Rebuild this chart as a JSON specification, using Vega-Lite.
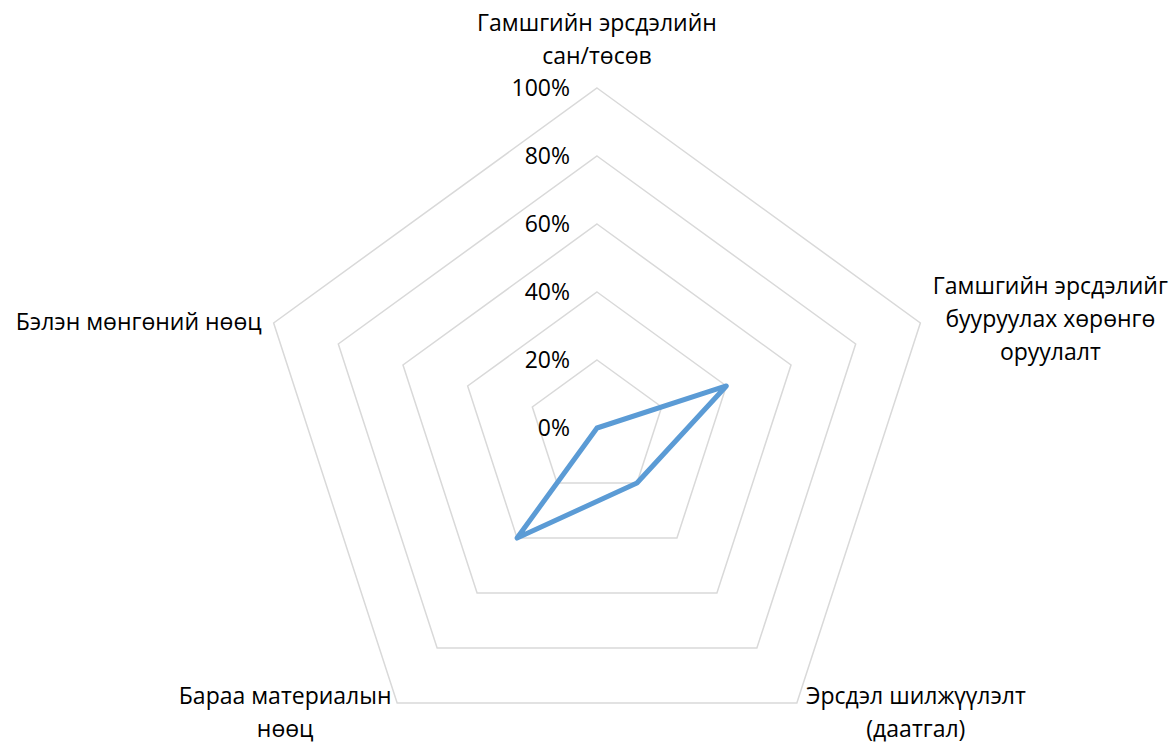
{
  "$schema": "https://vega.github.io/schema/vega-lite/v6.json",
  "width": 1176,
  "height": 744,
  "autosize": {"type": "fit", "contains": "padding"},
  "padding": 0,
  "background": "white",
  "config": {"view": {"stroke": null}},
  "datasets": {
    "series": [
      {"i": 0, "category": "Гамшгийн эрсдэлийн сан/төсөв", "value": 0.0},
      {"i": 1, "category": "Гамшгийн эрсдэлийг бууруулах хөрөнгө оруулалт", "value": 0.4},
      {"i": 2, "category": "Эрсдэл шилжүүлэлт (даатгал)", "value": 0.2},
      {"i": 3, "category": "Бараа материалын нөөц", "value": 0.4},
      {"i": 4, "category": "Бэлэн мөнгөний нөөц", "value": 0.0}
    ],
    "grid": [
      {"level": 0.2, "axes": [0, 1, 2, 3, 4]},
      {"level": 0.4, "axes": [0, 1, 2, 3, 4]},
      {"level": 0.6, "axes": [0, 1, 2, 3, 4]},
      {"level": 0.8, "axes": [0, 1, 2, 3, 4]},
      {"level": 1.0, "axes": [0, 1, 2, 3, 4]}
    ],
    "ticks": [
      {"level": 0.0, "label": "0%"},
      {"level": 0.2, "label": "20%"},
      {"level": 0.4, "label": "40%"},
      {"level": 0.6, "label": "60%"},
      {"level": 0.8, "label": "80%"},
      {"level": 1.0, "label": "100%"}
    ],
    "labels": [
      {"i": 0, "label": ["Гамшгийн эрсдэлийн", "сан/төсөв"]},
      {"i": 1, "label": ["Гамшгийн эрсдэлийг", "бууруулах хөрөнгө", "оруулалт"]},
      {"i": 2, "label": ["Эрсдэл шилжүүлэлт", "(даатгал)"]},
      {"i": 3, "label": ["Бараа материалын", "нөөц"]},
      {"i": 4, "label": ["Бэлэн мөнгөний нөөц"]}
    ]
  },
  "resolve": {"scale": {"x": "shared", "y": "shared"}},
  "layer": [
    {
      "data": {"name": "grid"},
      "transform": [
        {"flatten": ["axes"], "as": ["a"]},
        {"calculate": "datum.level * cos(PI / 2 - 2 * PI * datum.a / 5)", "as": "x"},
        {"calculate": "datum.level * sin(PI / 2 - 2 * PI * datum.a / 5)", "as": "y"}
      ],
      "mark": {"type": "line", "interpolate": "linear-closed", "color": "#d9d9d9", "strokeWidth": 1.5},
      "encoding": {
        "x": {"field": "x", "type": "quantitative", "scale": {"domain": [-1.75588, 1.70294], "nice": false, "zero": false}, "axis": null},
        "y": {"field": "y", "type": "quantitative", "scale": {"domain": [-0.92941, 1.25882], "nice": false, "zero": false}, "axis": null},
        "detail": {"field": "level", "type": "nominal"},
        "order": {"field": "a", "type": "quantitative"}
      }
    },
    {
      "data": {"name": "series"},
      "transform": [
        {"calculate": "datum.value * cos(PI / 2 - 2 * PI * datum.i / 5)", "as": "x"},
        {"calculate": "datum.value * sin(PI / 2 - 2 * PI * datum.i / 5)", "as": "y"}
      ],
      "mark": {"type": "line", "interpolate": "linear-closed", "color": "#5b9bd5", "strokeWidth": 5, "strokeJoin": "round"},
      "encoding": {
        "x": {"field": "x", "type": "quantitative"},
        "y": {"field": "y", "type": "quantitative"},
        "order": {"field": "i", "type": "quantitative"}
      }
    },
    {
      "data": {"name": "ticks"},
      "transform": [
        {"calculate": "0", "as": "x"}
      ],
      "mark": {"type": "text", "align": "right", "baseline": "middle", "dx": -27, "dy": 1, "font": "Open Sans", "fontSize": 23, "color": "#000000"},
      "encoding": {
        "x": {"field": "x", "type": "quantitative"},
        "y": {"field": "level", "type": "quantitative"},
        "text": {"field": "label"}
      }
    },
    {
      "data": {"name": "labels"},
      "transform": [
        {"filter": "datum.i == 0"},
        {"calculate": "cos(PI / 2 - 2 * PI * datum.i / 5)", "as": "x"},
        {"calculate": "sin(PI / 2 - 2 * PI * datum.i / 5)", "as": "y"}
      ],
      "mark": {"type": "text", "align": "center", "baseline": "middle", "dy": -64, "lineHeight": 33, "font": "Open Sans", "fontSize": 23, "color": "#000000"},
      "encoding": {
        "x": {"field": "x", "type": "quantitative"},
        "y": {"field": "y", "type": "quantitative"},
        "text": {"field": "label"}
      }
    },
    {
      "data": {"name": "labels"},
      "transform": [
        {"filter": "datum.i == 1"},
        {"calculate": "cos(PI / 2 - 2 * PI * datum.i / 5)", "as": "x"},
        {"calculate": "sin(PI / 2 - 2 * PI * datum.i / 5)", "as": "y"}
      ],
      "mark": {"type": "text", "align": "center", "baseline": "middle", "dx": 130, "dy": -36, "lineHeight": 33, "font": "Open Sans", "fontSize": 23, "color": "#000000"},
      "encoding": {
        "x": {"field": "x", "type": "quantitative"},
        "y": {"field": "y", "type": "quantitative"},
        "text": {"field": "label"}
      }
    },
    {
      "data": {"name": "labels"},
      "transform": [
        {"filter": "datum.i == 2"},
        {"calculate": "cos(PI / 2 - 2 * PI * datum.i / 5)", "as": "x"},
        {"calculate": "sin(PI / 2 - 2 * PI * datum.i / 5)", "as": "y"}
      ],
      "mark": {"type": "text", "align": "center", "baseline": "middle", "dx": 119, "dy": -6, "lineHeight": 33, "font": "Open Sans", "fontSize": 23, "color": "#000000"},
      "encoding": {
        "x": {"field": "x", "type": "quantitative"},
        "y": {"field": "y", "type": "quantitative"},
        "text": {"field": "label"}
      }
    },
    {
      "data": {"name": "labels"},
      "transform": [
        {"filter": "datum.i == 3"},
        {"calculate": "cos(PI / 2 - 2 * PI * datum.i / 5)", "as": "x"},
        {"calculate": "sin(PI / 2 - 2 * PI * datum.i / 5)", "as": "y"}
      ],
      "mark": {"type": "text", "align": "center", "baseline": "middle", "dx": -112, "dy": -6, "lineHeight": 33, "font": "Open Sans", "fontSize": 23, "color": "#000000"},
      "encoding": {
        "x": {"field": "x", "type": "quantitative"},
        "y": {"field": "y", "type": "quantitative"},
        "text": {"field": "label"}
      }
    },
    {
      "data": {"name": "labels"},
      "transform": [
        {"filter": "datum.i == 4"},
        {"calculate": "cos(PI / 2 - 2 * PI * datum.i / 5)", "as": "x"},
        {"calculate": "sin(PI / 2 - 2 * PI * datum.i / 5)", "as": "y"}
      ],
      "mark": {"type": "text", "align": "right", "baseline": "middle", "dx": -12, "dy": 0, "lineHeight": 33, "font": "Open Sans", "fontSize": 23, "color": "#000000"},
      "encoding": {
        "x": {"field": "x", "type": "quantitative"},
        "y": {"field": "y", "type": "quantitative"},
        "text": {"field": "label"}
      }
    }
  ]
}
